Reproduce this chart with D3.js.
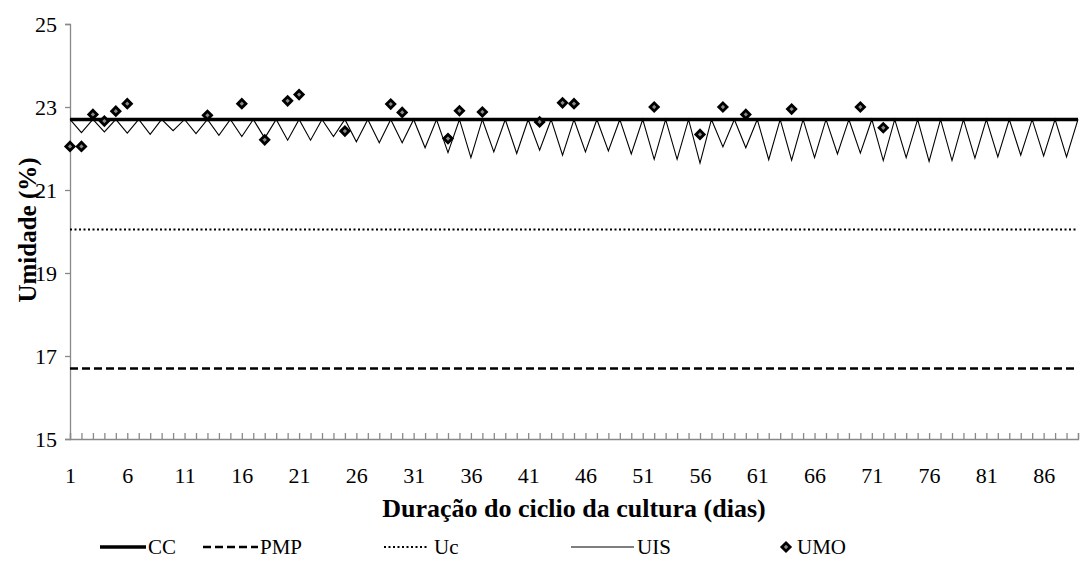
<!DOCTYPE html>
<html>
<head>
<meta charset="utf-8">
<script src="https://cdn.jsdelivr.net/npm/d3@7"></script>
<style>
  body { margin: 0; background: #fff; }
  text { font-family: "Liberation Serif", "Times New Roman", serif; fill: #000; }
</style>
</head>
<body>
<div id="chart"></div>
<script>
// data
var days = d3.range(1, 90);
var dayLabels = [1, 6, 11, 16, 21, 26, 31, 36, 41, 46, 51, 56, 61, 66, 71, 76, 81, 86];
var yTicks = [15, 17, 19, 21, 23, 25];

var cc = 22.7;
var pmp = 16.7;
var uc = 20.05;

var uis = [22.7,22.38,22.7,22.40,22.7,22.37,22.7,22.34,22.7,22.43,22.7,22.36,22.7,22.32,22.7,22.29,
  22.7,22.25,22.7,22.20,22.7,22.20,22.7,22.29,22.7,22.16,22.7,22.14,22.7,22.14,22.7,22.02,
  22.7,21.90,22.7,21.78,22.7,21.92,22.7,21.88,22.7,21.96,22.7,21.84,22.7,21.92,22.7,21.94,
  22.7,21.87,22.7,21.74,22.7,21.74,22.7,21.65,22.7,22.04,22.7,22.02,22.7,21.73,22.7,21.72,
  22.7,21.78,22.7,21.87,22.7,21.89,22.7,21.71,22.7,21.78,22.7,21.69,22.7,21.71,22.7,21.77,
  22.7,21.80,22.7,21.84,22.7,21.82,22.7,21.80,22.7];

var umoDays = [1,2,3,4,5,6,13,16,18,20,21,25,29,30,34,35,37,42,44,45,52,56,58,60,64,70,72];
var umoVals = [22.05,22.05,22.82,22.66,22.90,23.08,22.80,23.08,22.21,23.15,23.30,22.42,23.07,22.87,
  22.24,22.91,22.88,22.64,23.10,23.08,23.00,22.34,23.00,22.82,22.95,23.00,22.50];

var W = 1083, H = 578;
var plotL = 70, plotR = 1078, plotT = 24, plotB = 439;

var svg = d3.select("#chart").append("svg")
    .attr("width", W)
    .attr("height", H);

var x = d3.scaleLinear().domain([1, 89]).range([plotL, plotR]);
var y = d3.scaleLinear().domain([15, 25]).range([plotB, plotT]);

// y axis
var yAxis = svg.append("g")
    .attr("transform", "translate(" + plotL + ",0)")
    .call(d3.axisLeft(y).tickValues(yTicks).tickSize(5).tickPadding(8).tickFormat(d3.format("d")));
yAxis.selectAll("text").style("font-size", "22px").style("font-family", "Liberation Serif");

// x axis
var xAxis = svg.append("g")
    .attr("transform", "translate(0," + plotB + ")")
    .call(d3.axisBottom(x).tickValues(days).tickSize(-6).tickPadding(28)
      .tickFormat(function(d) { return dayLabels.indexOf(d) >= 0 ? d : ""; }));
xAxis.selectAll("text").style("font-size", "22px").style("font-family", "Liberation Serif");

svg.selectAll(".domain, .tick line").attr("stroke", "#898989").attr("stroke-width", 1.3);

// reference lines
var line = d3.line().x(function(d) { return x(d[0]); }).y(function(d) { return y(d[1]); });

svg.append("path")
    .datum([[1, pmp], [89, pmp]])
    .attr("d", line)
    .attr("fill", "none").attr("stroke", "#000")
    .attr("stroke-width", 2.5).attr("stroke-dasharray", "8,4");

svg.append("path")
    .datum([[1, uc], [89, uc]])
    .attr("d", line)
    .attr("fill", "none").attr("stroke", "#000")
    .attr("stroke-width", 2).attr("stroke-dasharray", "2,2.5");

// UIS sawtooth
svg.append("path")
    .datum(days.map(function(d, i) { return [d, uis[i]]; }))
    .attr("d", line)
    .attr("fill", "none").attr("stroke", "#000")
    .attr("stroke-width", 1.1);

// CC
svg.append("path")
    .datum([[1, cc], [89, cc]])
    .attr("d", line)
    .attr("fill", "none").attr("stroke", "#000")
    .attr("stroke-width", 3.5);

// UMO points
var diamond = d3.symbol().type(d3.symbolSquare).size(34);
svg.selectAll(".umo")
    .data(umoDays)
  .enter().append("path")
    .attr("class", "umo")
    .attr("d", diamond)
    .attr("transform", function(d, i) { return "translate(" + x(d) + "," + y(umoVals[i]) + ") rotate(45)"; })
    .attr("fill", "#8a8a8a")
    .attr("stroke", "#000")
    .attr("stroke-width", 2.8);

// axis titles
svg.append("text")
    .attr("x", 574)
    .attr("y", 517)
    .attr("text-anchor", "middle")
    .style("font-size", "26px")
    .style("font-weight", "bold")
    .text("Duração do ciclio da cultura (dias)");

svg.append("text")
    .attr("transform", "translate(36,230) rotate(-90)")
    .attr("text-anchor", "middle")
    .style("font-size", "25px")
    .style("font-weight", "bold")
    .text("Umidade (%)");

// legend
var ly = 547;
var legend = svg.append("g").style("font-size", "21px");

legend.append("line").attr("x1", 100).attr("x2", 146).attr("y1", ly).attr("y2", ly)
    .attr("stroke", "#000").attr("stroke-width", 3.5);
legend.append("text").attr("x", 148).attr("y", ly + 7).text("CC");

legend.append("line").attr("x1", 203).attr("x2", 258).attr("y1", ly).attr("y2", ly)
    .attr("stroke", "#000").attr("stroke-width", 2.5).attr("stroke-dasharray", "8,4");
legend.append("text").attr("x", 260).attr("y", ly + 7).text("PMP");

legend.append("line").attr("x1", 384).attr("x2", 429).attr("y1", ly).attr("y2", ly)
    .attr("stroke", "#000").attr("stroke-width", 2).attr("stroke-dasharray", "2,2.5");
legend.append("text").attr("x", 434).attr("y", ly + 7).text("Uc");

legend.append("line").attr("x1", 571).attr("x2", 634).attr("y1", ly).attr("y2", ly)
    .attr("stroke", "#000").attr("stroke-width", 1.1);
legend.append("text").attr("x", 637).attr("y", ly + 7).text("UIS");

legend.append("path").attr("d", diamond)
    .attr("transform", "translate(786," + ly + ") rotate(45)")
    .attr("fill", "#8a8a8a").attr("stroke", "#000").attr("stroke-width", 2.8);
legend.append("text").attr("x", 797).attr("y", ly + 7).text("UMO");
</script>
</body>
</html>
